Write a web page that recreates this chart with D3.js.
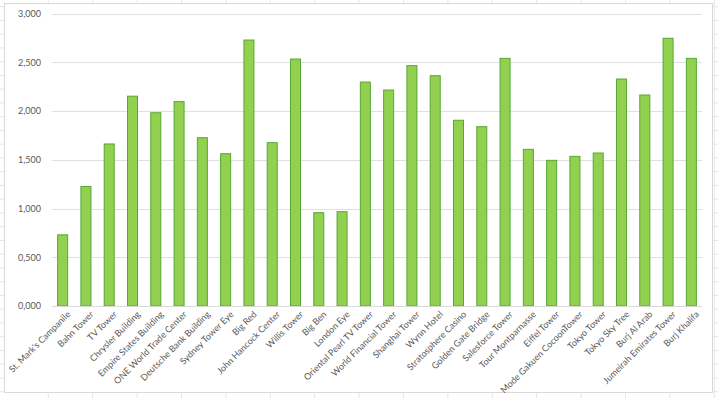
<!DOCTYPE html>
<html>
<head>
<meta charset="utf-8">
<script src="https://cdn.jsdelivr.net/npm/d3@7"></script>
<style>
  body { margin: 0; background: #fff; }
  svg text { font-family: Lato, "Liberation Sans", sans-serif; }
</style>
</head>
<body>
<div id="chart"></div>
<script>
const towers = ["St. Mark's Campanile", "Bahn Tower", "TV Tower", "Chrysler Building",
  "Empire States Building", "ONE World Trade Center", "Deutsche Bank Building",
  "Sydney Tower Eye", "Big Red", "John Hancock Center", "Willis Tower", "Big Ben",
  "London Eye", "Oriental Pearl TV Tower", "World Financial Tower", "Shanghai Tower",
  "Wynn Hotel", "Stratosphere Casino", "Golden Gate Bridge", "Salesforce Tower",
  "Tour Montparnasse", "Eiffel Tower", "Mode Gakuen CocoonTower", "Tokyo Tower",
  "Tokyo Sky Tree", "Burj Al Arab", "Jumeirah Emirates Tower", "Burj Khalifa"];

const values = [0.730, 1.226, 1.662, 2.152, 1.982, 2.096, 1.726, 1.562, 2.728, 1.675,
  2.533, 0.957, 0.967, 2.297, 2.215, 2.465, 2.362, 1.905, 1.839, 2.540,
  1.607, 1.494, 1.535, 1.569, 2.328, 2.164, 2.746, 2.540];

const yTicks = [0, 0.5, 1, 1.5, 2, 2.5, 3];

const width = 718, height = 398;
const margin = {top: 13.5, right: 15, bottom: 92, left: 51};

const svg = d3.select("#chart")
  .append("svg")
  .attr("width", width)
  .attr("height", height);

// spreadsheet cells behind the chart
const cellColor = "#e6e6e6";
const colXs = d3.range(48.3, width, 44.4);
const rowYs = d3.range(6.7, height, 13.75);
colXs.forEach(x => {
  svg.append("line").attr("x1", x).attr("x2", x).attr("y1", 0).attr("y2", height)
    .attr("stroke", cellColor);
});
rowYs.forEach(y => {
  svg.append("line").attr("x1", 0).attr("x2", width).attr("y1", y).attr("y2", y)
    .attr("stroke", cellColor);
});

// chart area
svg.append("rect")
  .attr("x", 4.5).attr("y", 3.5)
  .attr("width", 708).attr("height", 389)
  .attr("fill", "#fff")
  .attr("stroke", "#d9d9d9");

const xScale = d3.scaleBand()
  .domain(towers)
  .range([margin.left, width - margin.right])
  .paddingInner(0.57)
  .paddingOuter(0.285);

const yScale = d3.scaleLinear()
  .domain([0, 3])
  .range([height - margin.bottom, margin.top]);

const fmt = v => d3.format(".3f")(v).replace(".", ",");

// gridlines
svg.append("g")
  .selectAll("line")
  .data(yTicks.filter(d => d > 0))
  .join("line")
  .attr("x1", margin.left + 1)
  .attr("x2", width - margin.right - 1)
  .attr("y1", d => Math.round(yScale(d)) + 0.5)
  .attr("y2", d => Math.round(yScale(d)) + 0.5)
  .attr("stroke", "#e0e0e0");

// y axis
const yAxis = svg.append("g")
  .attr("transform", `translate(${margin.left - 7},0)`)
  .call(d3.axisLeft(yScale).tickValues(yTicks).tickFormat(fmt).tickSize(0));
yAxis.select(".domain").remove();
yAxis.selectAll("text")
  .attr("fill", "#595959")
  .style("font-size", "9px");

// bars
svg.append("g")
  .selectAll("rect")
  .data(values)
  .join("rect")
  .attr("x", (d, i) => xScale(towers[i]))
  .attr("y", d => yScale(d))
  .attr("width", xScale.bandwidth())
  .attr("height", d => yScale(0) - yScale(d))
  .attr("fill", "#92d050")
  .attr("stroke", "#55a832")
  .attr("stroke-width", 1);

// x axis
const xAxis = svg.append("g")
  .attr("transform", `translate(0,${Math.round(yScale(0)) + 0.5})`)
  .call(d3.axisBottom(xScale).tickSize(0));
xAxis.select(".domain")
  .attr("d", `M${margin.left + 1},0H${width - margin.right - 1}`)
  .attr("stroke", "#d9d9d9");
xAxis.selectAll("text")
  .attr("fill", "#595959")
  .style("font-size", "9px")
  .attr("text-anchor", "end")
  .attr("dy", "0.35em")
  .attr("transform", "translate(4,4) rotate(-45)");
</script>
</body>
</html>
